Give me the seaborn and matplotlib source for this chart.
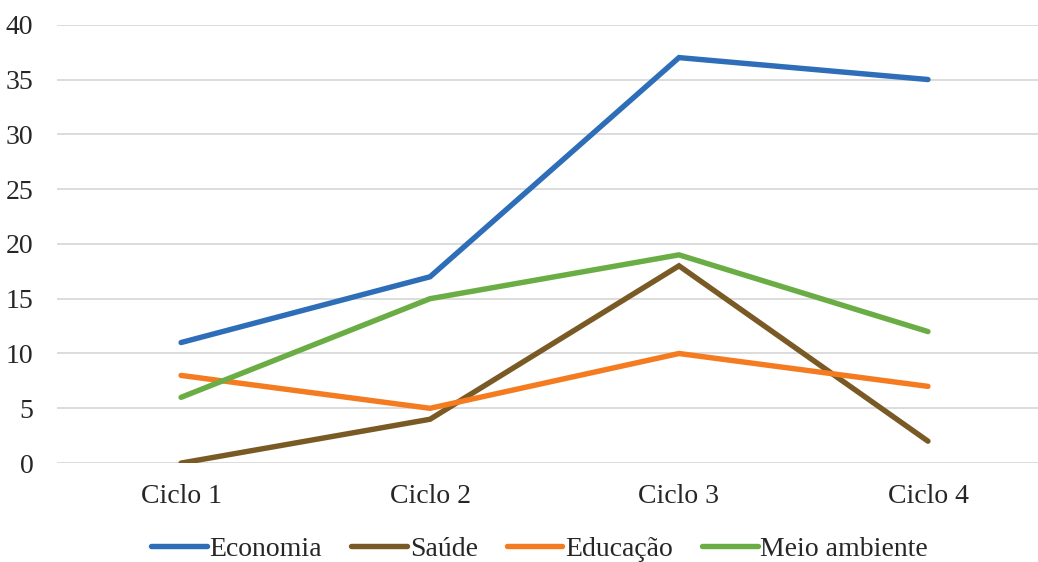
import pandas as pd
import seaborn as sns
import matplotlib.pyplot as plt

# data
ciclos = ["Ciclo 1", "Ciclo 2", "Ciclo 3", "Ciclo 4"]
economia = [11, 17, 37, 35]
saude = [0, 4, 18, 2]
educacao = [8, 5, 10, 7]
meio_ambiente = [6, 15, 19, 12]

series = {"Economia": economia, "Saúde": saude, "Educação": educacao, "Meio ambiente": meio_ambiente}
colors = ["#2E6EB8", "#7A5A24", "#F47B20", "#6AAD45"]

rows = []
for name, vals in series.items():
    for i, (c, v) in enumerate(zip(ciclos, vals)):
        rows.append({"pos": i, "ciclo": c, "valor": v, "serie": name})
df = pd.DataFrame(rows)

sns.set_style("white")
plt.rcParams["font.family"] = ["Liberation Serif", "DejaVu Serif"]

fig = plt.figure(figsize=(10.38, 5.62), dpi=100)
ax = fig.add_axes([0.055, 0.176, 0.945, 0.78])

sns.lineplot(data=df, x="pos", y="valor", hue="serie", palette=colors,
             linewidth=3.9, ax=ax, legend=True)
for ln in ax.lines:
    ln.set_solid_capstyle("round")
    ln.set_solid_joinstyle("miter")

ax.set_ylim(0, 40)
ax.set_xlim(-0.498, 3.442)
ax.set_yticks(range(0, 41, 5))
ax.set_xticks(range(len(ciclos)))
ax.set_xticklabels(ciclos)
ax.yaxis.grid(True, color="#D9D9D9", linewidth=1.3)
ax.set_axisbelow(True)
for s in ax.spines.values():
    s.set_visible(False)
ax.tick_params(axis="both", length=0, labelsize=20, colors="#262626")
ax.tick_params(axis="x", pad=15)
ax.tick_params(axis="y", pad=17)
ax.set_xlabel("")
ax.set_ylabel("")

handles, labels = ax.get_legend_handles_labels()
ax.legend(handles, labels, loc="center", bbox_to_anchor=(0.492, -0.197), ncol=4,
          frameon=False, fontsize=20, handlelength=2.0, handletextpad=0.1,
          columnspacing=1.05, labelcolor="#262626")

fig.savefig("out.png", dpi=100)
